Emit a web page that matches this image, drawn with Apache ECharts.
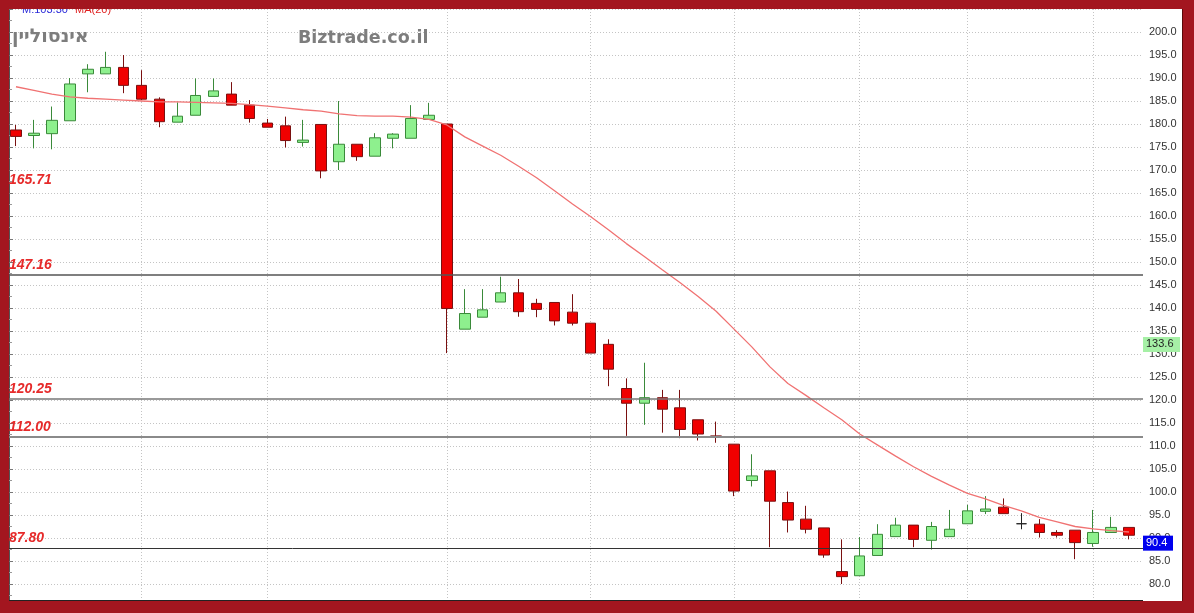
<!DOCTYPE html>
<html>
<head>
<meta charset="utf-8">
<script src="https://cdn.jsdelivr.net/npm/echarts@6/dist/echarts.min.js"></script>
<style>
  html, body { margin: 0; padding: 0; }
  body { width: 1194px; height: 613px; background: #a3161f; position: relative; overflow: hidden; }
  #paper { position: absolute; left: 9px; top: 9px; width: 1174px; height: 592px; background: #ffffff; }
  #chart { position: absolute; left: 0; top: 0; width: 1194px; height: 613px; }
</style>
</head>
<body>
<div id="paper"></div>
<div id="chart"></div>
<script>
// ---- data ----
const titleText = 'אינסוליין';
const siteText = 'Biztrade.co.il';
const topInfo = ['M:103.30', 'MA(20)'];

// [open, close, low, high]
const ohlc = [
  [178.7, 177.3, 175.2, 179.8],
  [177.5, 178.0, 174.7, 180.9],
  [177.9, 180.8, 174.5, 183.8],
  [180.7, 188.7, 180.7, 190.0],
  [190.9, 191.9, 186.9, 193.0],
  [190.9, 192.3, 190.9, 195.7],
  [192.3, 188.4, 186.7, 195.0],
  [188.4, 185.4, 185.2, 191.7],
  [185.4, 180.5, 179.3, 185.8],
  [180.4, 181.7, 180.4, 184.7],
  [181.9, 186.2, 181.9, 189.9],
  [186.0, 187.2, 186.0, 189.9],
  [186.5, 184.1, 184.1, 189.1],
  [184.1, 181.2, 180.3, 185.2],
  [180.2, 179.3, 179.3, 181.1],
  [179.6, 176.4, 174.9, 181.6],
  [176.0, 176.5, 175.1, 180.9],
  [179.9, 169.8, 168.2, 179.9],
  [171.8, 175.6, 170.0, 185.0],
  [175.6, 172.9, 172.0, 175.6],
  [173.0, 177.0, 173.0, 178.0],
  [176.9, 177.8, 174.7, 178.0],
  [176.9, 181.2, 176.9, 184.1],
  [181.0, 181.9, 181.0, 184.6],
  [180.0, 139.9, 130.2, 180.0],
  [135.4, 138.8, 135.4, 144.1],
  [138.0, 139.6, 138.0, 144.1],
  [141.3, 143.3, 141.3, 146.8],
  [143.3, 139.2, 138.1, 146.3],
  [141.0, 139.7, 138.0, 142.0],
  [141.2, 137.2, 136.2, 141.2],
  [139.1, 136.7, 136.2, 143.0],
  [136.7, 130.2, 130.2, 136.7],
  [132.1, 126.7, 123.0, 133.2],
  [122.5, 119.3, 112.2, 124.7],
  [119.3, 120.5, 114.6, 128.1],
  [120.5, 118.0, 112.9, 122.2],
  [118.3, 113.6, 111.7, 122.2],
  [115.7, 112.6, 111.2, 115.7],
  [112.2, 111.9, 110.7, 115.3],
  [110.4, 100.2, 99.1, 110.4],
  [102.5, 103.5, 101.2, 108.2],
  [104.6, 98.0, 88.0, 104.6],
  [97.7, 93.9, 91.2, 100.1],
  [94.1, 91.9, 91.0, 97.0],
  [92.2, 86.3, 85.7, 92.2],
  [82.7, 81.6, 80.0, 89.7],
  [81.8, 86.1, 81.8, 90.2],
  [86.2, 90.8, 86.2, 93.0],
  [90.3, 92.8, 90.3, 94.4],
  [92.8, 89.7, 88.0, 92.8],
  [89.5, 92.5, 87.5, 93.5],
  [90.3, 91.9, 90.3, 96.1],
  [93.1, 95.9, 93.1, 97.2],
  [95.8, 96.3, 95.2, 99.1],
  [96.7, 95.3, 95.3, 98.6],
  [93.1, 93.1, 91.9, 95.4],
  [93.0, 91.2, 90.1, 94.1],
  [91.2, 90.6, 90.1, 91.7],
  [91.7, 89.0, 85.4, 91.7],
  [88.8, 91.2, 88.1, 96.1],
  [91.2, 92.3, 91.2, 94.6],
  [92.3, 90.6, 89.7, 92.3]
];

const maValues = [
  188.1, 187.3, 186.5, 185.9, 185.6, 185.4, 185.2, 185.0, 184.8, 184.8,
  184.7, 184.6, 184.5, 184.2, 183.9, 183.5, 183.1, 182.8, 182.2, 181.8,
  181.7, 181.7, 181.5, 181.0, 179.8, 177.2, 175.2, 173.2, 170.8, 168.3,
  165.5, 162.6, 159.9, 157.0, 154.0, 151.2, 148.3, 145.5, 142.5, 139.3,
  135.4, 131.5, 127.2, 123.6, 121.0, 118.3, 115.7, 112.6, 110.2, 107.8,
  105.5, 103.4, 101.5, 99.7, 98.5, 97.1, 95.9, 94.5, 93.5, 92.5,
  92.0, 91.6, 91.3
];

const categories = ohlc.map((d, i) => String(i + 1));
// candles where a period separator line is drawn
const separatorCats = ['8', '15', '25', '33', '41', '48', '54', '61'];

const levelValues = [165.71, 147.16, 120.25, 112.00, 87.80];
const levelLabels = ['165.71', '147.16', '120.25', '112.00', '87.80'];
const levelLineColors = ['rgba(0,0,0,0)', '#555555', '#777777', '#8a8a8a', '#333333'];
const levelLineWidths = [0, 1.5, 1.5, 2, 1];

const tagValues = [133.6, 90.4];
const tagLabels = ['133.6', '90.4'];

const yMin = 75, yMax = 205, yStep = 5;

// ---- chart ----
const chart = echarts.init(document.getElementById('chart'), null, { renderer: 'canvas' });

const gridLine = { type: [1, 2], color: '#c4c4c4', width: 1 };

const option = {
  backgroundColor: 'transparent',
  animation: false,
  title: [
    { text: titleText, left: 7, top: 23,
      textStyle: { fontFamily: 'DejaVu Sans', fontSize: 19, fontWeight: 'bold', color: '#7d7d7d' } },
    { text: siteText, left: 293, top: 24,
      textStyle: { fontFamily: 'DejaVu Sans', fontSize: 17.5, fontWeight: 'bold', color: '#7d7d7d' } }
  ],
  grid: [
    { left: 7, right: 56, top: 9, height: 598 },
    { left: 9, right: 51, top: 9, height: 598 }
  ],
  xAxis: [
    { type: 'category', gridIndex: 0, data: categories, show: false },
    { type: 'value', gridIndex: 1, min: 0, max: 1, show: false }
  ],
  yAxis: [
    { type: 'value', gridIndex: 0, min: yMin, max: yMax, interval: yStep, show: false },
    { type: 'value', gridIndex: 1, position: 'right', min: yMin, max: yMax, interval: yStep,
      axisLine: { show: true, lineStyle: { color: '#555555', width: 1 } },
      axisTick: { show: true, length: 4, lineStyle: { color: '#777777' } },
      minorTick: { show: true, splitNumber: 2, length: 3, lineStyle: { color: '#999999' } },
      axisLabel: { margin: 6, color: '#333333', fontFamily: 'Liberation Sans', fontSize: 11,
        formatter: v => (v <= yMin || v >= yMax) ? '' : v.toFixed(1) },
      splitLine: { show: true, lineStyle: gridLine }
    }
  ],
  graphic: [
    { type: 'text', left: 22, top: 4, z: 50,
      style: { text: topInfo[0], fill: '#2a2ad8', font: '11px "Liberation Sans"' } },
    { type: 'text', left: 75, top: 4, z: 50,
      style: { text: topInfo[1], fill: '#e02020', font: '11px "Liberation Sans"' } },
    { type: 'rect', left: 0, top: 0, z: 100, shape: { width: 1194, height: 9 }, style: { fill: '#a3161f' } },
    { type: 'rect', left: 9, top: 600, z: 100, shape: { width: 1134, height: 1 }, style: { fill: '#222222' } },
    { type: 'rect', left: 0, top: 601, z: 100, shape: { width: 1194, height: 12 }, style: { fill: '#a3161f' } },
    { type: 'rect', left: 1183, top: 0, z: 100, shape: { width: 11, height: 613 }, style: { fill: '#a3161f' } },
    { type: 'rect', left: 1182, top: 9, z: 100, shape: { width: 1, height: 592 }, style: { fill: '#5a0a0a' } }
  ],
  series: [
    {
      type: 'candlestick', xAxisIndex: 0, yAxisIndex: 0, z: 3,
      barWidth: 11,
      data: ohlc,
      itemStyle: {
        color: '#8ef08e', borderColor: '#3a8a3a',
        color0: '#f00000', borderColor0: '#7a1010',
        borderColorDoji: '#222222', borderWidth: 1
      },
      markLine: {
        silent: true, symbol: 'none', z: 1, animation: false,
        label: { show: false },
        lineStyle: gridLine,
        data: separatorCats.map(c => ({ xAxis: c }))
      }
    },
    {
      type: 'line', xAxisIndex: 0, yAxisIndex: 0, z: 4,
      data: maValues, symbol: 'none', smooth: false,
      lineStyle: { color: '#f07272', width: 1.3 }
    },
    {
      type: 'line', xAxisIndex: 1, yAxisIndex: 1, z: 5,
      data: [[0.5, null]], symbol: 'none',
      markLine: {
        silent: true, symbol: 'none', animation: false,
        data: levelValues.map((v, i) => ({
          yAxis: v,
          lineStyle: { color: levelLineColors[i], width: levelLineWidths[i], type: 'solid' },
          label: {
            show: true, position: 'insideStartTop', distance: [0, 3],
            formatter: levelLabels[i],
            color: '#e62a2a', fontFamily: 'Liberation Sans', fontSize: 14,
            fontWeight: 'bold', fontStyle: 'italic'
          }
        })).concat(tagValues.map((v, i) => ({
          yAxis: v,
          lineStyle: { color: 'rgba(0,0,0,0)', width: 0 },
          label: {
            show: true, position: 'end', distance: 0,
            formatter: '{s|}\n{b|' + tagLabels[i] + '}',
            rich: {
              s: { height: 14 },
              b: i === 0
                ? { backgroundColor: '#a6f0a6', color: '#222222', fontFamily: 'Liberation Sans', fontSize: 11,
                    padding: [1, 4, 1, 3], height: 13, lineHeight: 13, width: 30 }
                : { backgroundColor: '#0000ee', color: '#ffffff', fontFamily: 'Liberation Sans', fontSize: 11,
                    padding: [1, 4, 1, 3], height: 13, lineHeight: 13, width: 23 }
            }
          }
        })))
      }
    }
  ]
};

chart.setOption(option);
</script>
</body>
</html>
